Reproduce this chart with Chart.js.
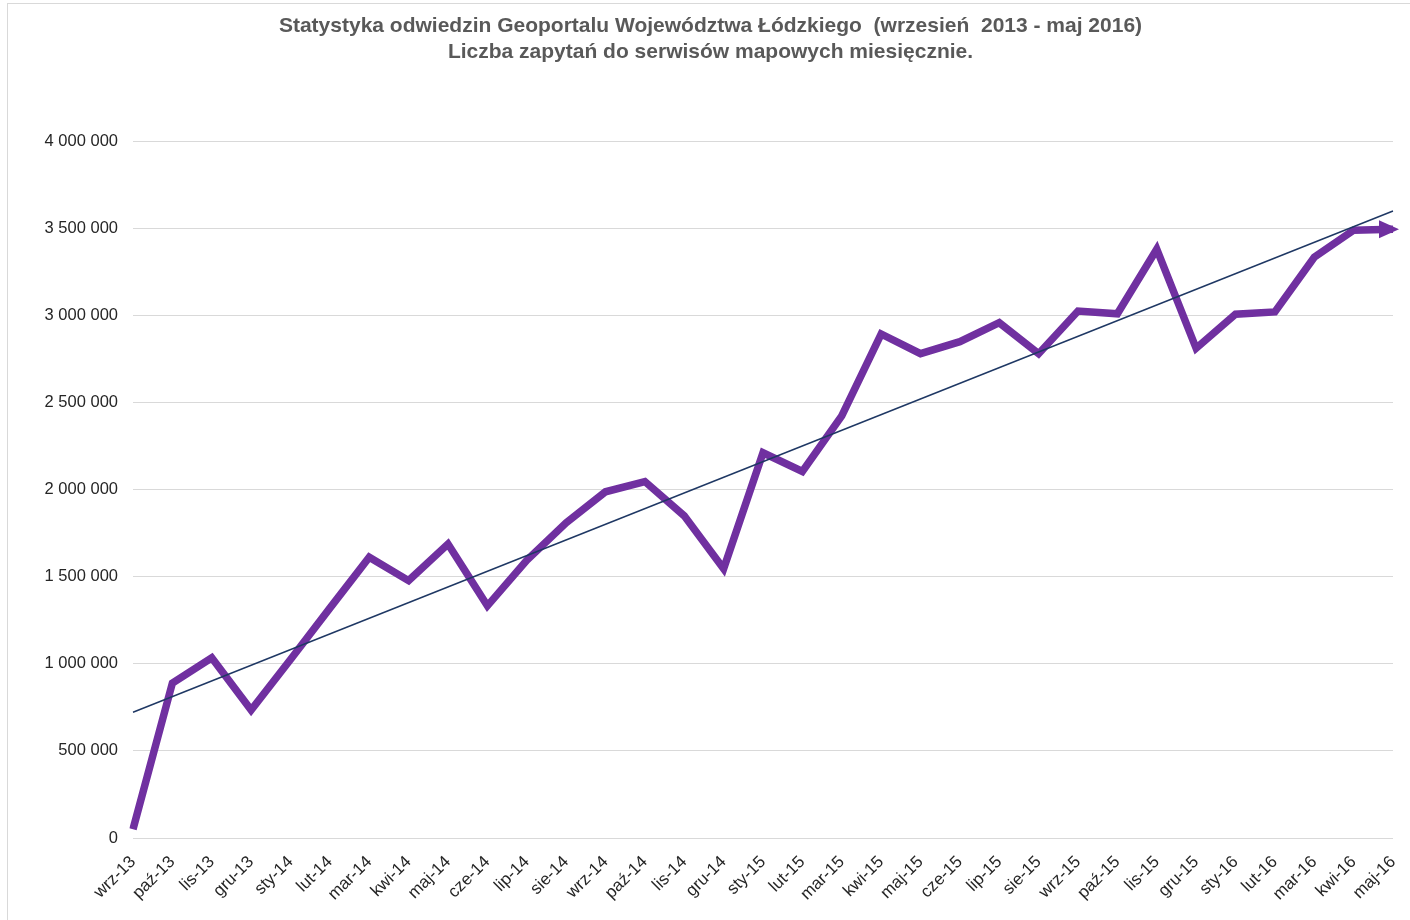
<!DOCTYPE html>
<html>
<head>
<meta charset="utf-8">
<script src="https://cdn.jsdelivr.net/npm/chart.js@4/dist/chart.umd.min.js"></script>
<style>
    html, body { margin: 0; padding: 0; background: #fff; }
    #wrap { position: relative; width: 1410px; height: 920px; }
    #frame {
        position: absolute; left: 7px; top: 3px; right: 0; bottom: 0;
        border-left: 1px solid #d9d9d9; border-top: 1px solid #d9d9d9;
        pointer-events: none;
    }
</style>
</head>
<body>
<div id="wrap">
    <canvas id="visitsChart" width="1410" height="920"></canvas>
    <div id="frame"></div>
</div>
<script>
// Months on the x axis
const months = [
    'wrz-13', 'paź-13', 'lis-13', 'gru-13', 'sty-14', 'lut-14', 'mar-14', 'kwi-14',
    'maj-14', 'cze-14', 'lip-14', 'sie-14', 'wrz-14', 'paź-14', 'lis-14', 'gru-14',
    'sty-15', 'lut-15', 'mar-15', 'kwi-15', 'maj-15', 'cze-15', 'lip-15', 'sie-15',
    'wrz-15', 'paź-15', 'lis-15', 'gru-15', 'sty-16', 'lut-16', 'mar-16', 'kwi-16',
    'maj-16'
];

// Monthly map service requests
const requests = [
    50000, 890000, 1035000, 735000, 1025000, 1320000, 1612000, 1478000,
    1688000, 1333000, 1595000, 1810000, 1988000, 2047000, 1850000, 1546000,
    2212000, 2105000, 2424000, 2894000, 2781000, 2850000, 2959000, 2781000,
    3026000, 3010000, 3381000, 2812000, 3008000, 3021000, 3335000, 3490000,
    3495000
];

// Linear trend line, start and end values
const trendStart = 722000;
const trendEnd = 3600000;

const yTicksMax = 4000000;
const yTicksStep = 500000;

const titleLines = [
    'Statystyka odwiedzin Geoportalu Województwa Łódzkiego  (wrzesień  2013 - maj 2016)',
    'Liczba zapytań do serwisów mapowych miesięcznie.'
];

const trend = months.map((m, i) => {
    if (i === 0) return trendStart;
    if (i === months.length - 1) return trendEnd;
    return null;
});

function spaced(value) {
    return String(value).replace(/\B(?=(\d{3})+(?!\d))/g, ' ');
}

// Arrow head at the end of the purple series
const arrowPlugin = {
    id: 'arrowHead',
    afterDatasetsDraw(chart) {
        const meta = chart.getDatasetMeta(1);
        const pts = meta.data;
        const last = pts[pts.length - 1];
        const ctx = chart.ctx;
        ctx.save();
        ctx.fillStyle = '#7030a0';
        ctx.beginPath();
        ctx.moveTo(last.x + 6, last.y);
        ctx.lineTo(last.x - 14, last.y - 9);
        ctx.lineTo(last.x - 14, last.y + 9);
        ctx.closePath();
        ctx.fill();
        ctx.restore();
    }
};

Chart.defaults.font.family = '"Liberation Sans", Arial, sans-serif';
Chart.defaults.color = '#262626';

const ctx = document.getElementById('visitsChart').getContext('2d');
new Chart(ctx, {
    type: 'line',
    data: {
        labels: months,
        datasets: [{
            label: 'Trend',
            data: trend,
            borderColor: '#1f3864',
            borderWidth: 1.5,
            pointRadius: 0,
            spanGaps: true,
            fill: false,
            order: 1
        }, {
            label: 'Liczba zapytań',
            data: requests,
            borderColor: '#7030a0',
            borderWidth: 7.5,
            borderJoinStyle: 'miter',
            borderCapStyle: 'butt',
            pointRadius: 0,
            tension: 0,
            fill: false,
            order: 2
        }]
    },
    options: {
        responsive: false,
        animation: false,
        layout: {
            padding: { left: 28, right: 17, top: 0, bottom: 0 }
        },
        plugins: {
            legend: { display: false },
            tooltip: { enabled: false },
            title: {
                display: true,
                text: titleLines,
                color: '#595959',
                font: { size: 21, weight: 'bold' },
                lineHeight: 1.2,
                padding: { top: 14, bottom: 77 }
            }
        },
        scales: {
            x: {
                grid: { display: false },
                border: { display: false },
                ticks: {
                    minRotation: 45,
                    maxRotation: 45,
                    autoSkip: false,
                    padding: 6,
                    color: '#262626',
                    font: { size: 17 }
                },
                afterFit: function(scale) {
                    scale.height = 82;
                    scale.paddingRight = 0;
                }
            },
            y: {
                min: 0,
                max: yTicksMax,
                grid: {
                    color: '#d9d9d9',
                    lineWidth: 1,
                    drawTicks: false
                },
                border: { display: false },
                ticks: {
                    stepSize: yTicksStep,
                    padding: 15,
                    color: '#262626',
                    font: { size: 16.5 },
                    callback: function(value) {
                        return spaced(value);
                    }
                },
                afterFit: function(scale) {
                    scale.width = 105;
                }
            }
        }
    },
    plugins: [arrowPlugin]
});
</script>
</body>
</html>
